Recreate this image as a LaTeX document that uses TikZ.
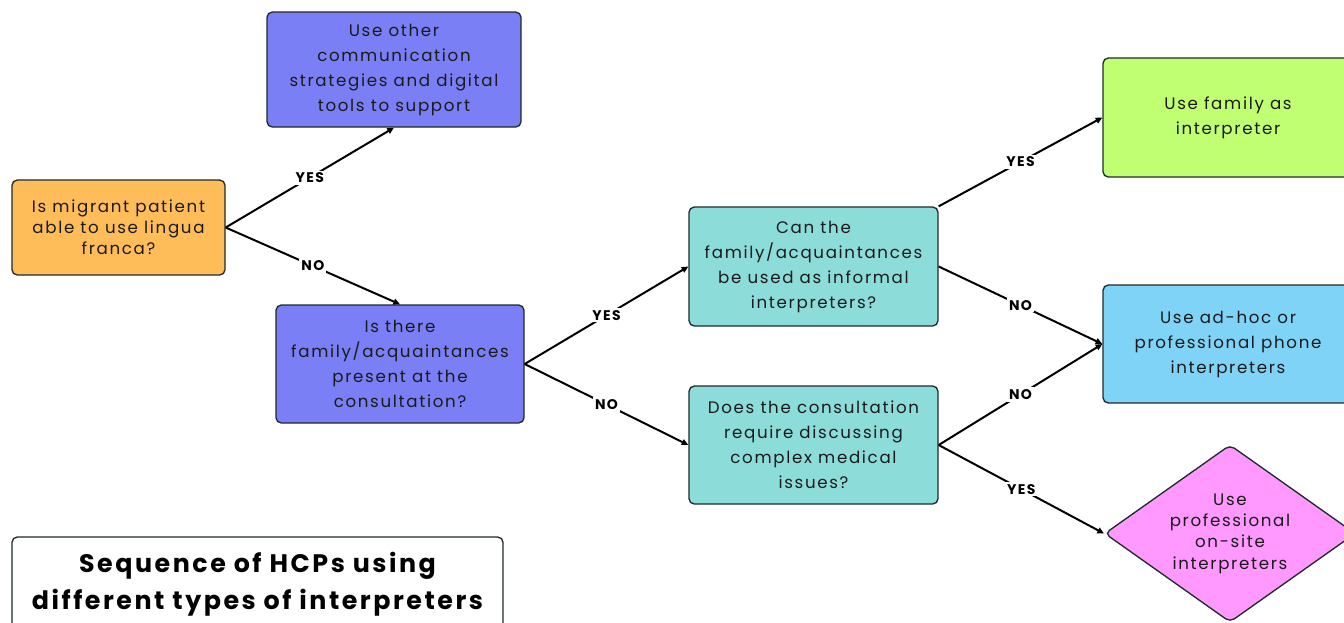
\documentclass[tikz,border=0pt]{standalone}
\usepackage{fontspec}
\setmainfont{Poppins}[LetterSpace=10]
\usetikzlibrary{shapes.geometric,arrows.meta}
\definecolor{corange}{HTML}{FFBD59}
\definecolor{cpurple}{HTML}{7B7FF5}
\definecolor{cteal}{HTML}{8CDCDA}
\definecolor{cgreen}{HTML}{C1FF72}
\definecolor{cblue}{HTML}{7ED3F7}
\definecolor{cpink}{HTML}{FF99FF}
\definecolor{cborder}{HTML}{1F2A2A}
\definecolor{ctext}{HTML}{1A1A1A}
\begin{document}
\begin{tikzpicture}[x=0.75pt,y=-0.75pt,
  box/.style={draw=cborder, line width=1pt, rounded corners=4pt, align=center,
    text=ctext, inner sep=0pt, font=\fontsize{12.5}{18.75}\selectfont},
  conn/.style={line width=1.5pt, -{Triangle[length=5pt,width=4.5pt]}},
  lbl/.style={fill=white, inner sep=1.5pt, font=\fontsize{10.5}{12}\selectfont\bfseries, text=black},
  title/.style={draw=cborder, line width=1pt, rounded corners=4pt, align=center,
    fill=white, inner sep=0pt, font=\fontsize{19}{27.5}\selectfont\bfseries, text=black}]
\useasboundingbox (0,0) rectangle (1344,622);
\clip (0,0) rectangle (1344,622);
\node[box, fill=corange, minimum width=159.75pt, minimum height=71.25pt,
  font=\fontsize{12.5}{15.75}\selectfont] (A) at (118.5,227.5)
  {Is migrant patient\\able to use lingua\\franca?};
\node[box, fill=cpurple, minimum width=190.5pt, minimum height=86.25pt] (B) at (394,69.5)
  {Use other\\communication\\strategies and digital\\tools to support};
\node[box, fill=cpurple, minimum width=186pt, minimum height=88.5pt] (C) at (400,364)
  {Is there\\family/acquaintances\\present at the\\consultation?};
\node[box, fill=cteal, minimum width=186.75pt, minimum height=89.25pt] (D) at (813.5,266.5)
  {Can the\\family/acquaintances\\be used as informal\\interpreters?};
\node[box, fill=cteal, minimum width=186.75pt, minimum height=88.5pt] (E) at (813.5,445)
  {Does the consultation\\require discussing\\complex medical\\issues?};
\node[box, fill=cgreen, minimum width=187.5pt, minimum height=89.25pt] (F) at (1228,117.5)
  {Use family as\\interpreter};
\node[box, fill=cblue, minimum width=187.5pt, minimum height=88.5pt] (G) at (1228,344)
  {Use ad-hoc or\\professional phone\\interpreters};
\node[box, diamond, fill=cpink, minimum width=188pt, minimum height=133pt] (H) at (1230,533.5) {};
\node[align=center, text=ctext, inner sep=0pt, font=\fontsize{12.5}{16}\selectfont] (Ht) at (H.center)
  {Use\\professional\\on-site\\interpreters};
\node[title, minimum width=368.25pt, minimum height=70.5pt] (T) at (257.5,584)
  {Sequence of HCPs using\\different types of interpreters};
\draw[conn] (A.east) -- node[lbl]{YES} (B.south);
\draw[conn] (A.east) -- node[lbl]{NO} (C.north);
\draw[conn] (C.east) -- node[lbl]{YES} (D.west);
\draw[conn] (C.east) -- node[lbl]{NO} (E.west);
\draw[conn] (D.north east) -- node[lbl]{YES} (F.west);
\draw[conn] (D.east) -- node[lbl]{NO} (G.west);
\draw[conn] (E.east) -- node[lbl]{NO} (G.west);
\draw[conn] (E.east) -- node[lbl]{YES} (H.west);
\end{tikzpicture}
\end{document}
